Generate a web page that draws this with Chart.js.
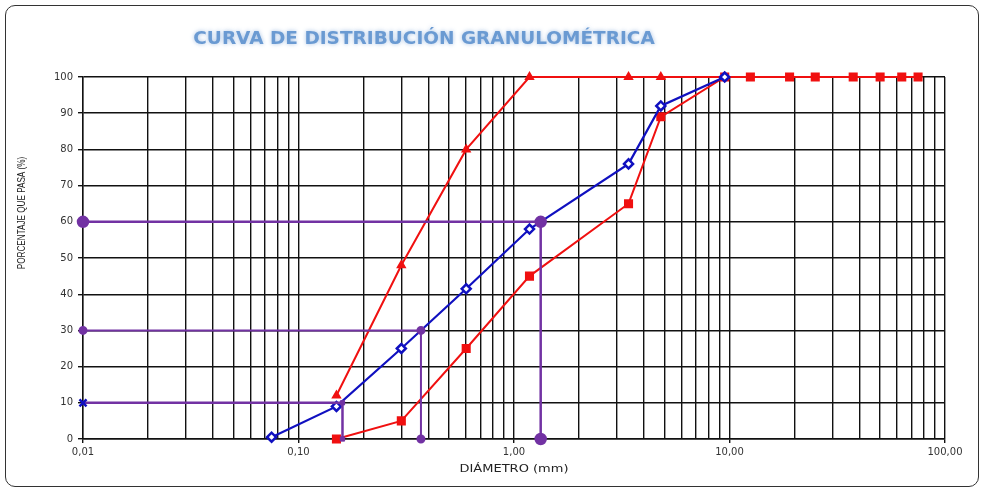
<!DOCTYPE html>
<html>
<head>
<meta charset="utf-8">
<script src="https://cdn.jsdelivr.net/npm/chart.js@4.4.1/dist/chart.umd.min.js"></script>
<style>
  html, body { margin: 0; padding: 0; background: #fff; }
  #marco { position: absolute; left: 5px; top: 5px; width: 972px; height: 480px;
           border: 1.5px solid #333; border-radius: 10px; pointer-events: none; }
  #caja { position: absolute; left: 0; top: 0; width: 984px; height: 490px; }
</style>
</head>
<body>
<div id="caja"><canvas id="granulometria" width="984" height="490"></canvas></div>
<div id="marco"></div>
<script>
// Curva granulometrica: diametro (mm) vs porcentaje que pasa
const titulo = 'CURVA DE DISTRIBUCIÓN GRANULOMÉTRICA';
const tituloY = 'PORCENTAJE QUE PASA (%)';
const tituloX = 'DIÁMETRO (mm)';

// curva azul (muestra)
const diametroAzul = [0.075, 0.15, 0.30, 0.60, 1.18, 3.40, 4.80, 9.50];
const pasaAzul = [0.5, 9, 25, 41.5, 58, 76, 92, 100];

// limite superior (triangulos rojos)
const diametroSuperior = [0.15, 0.30, 0.60, 1.18, 3.40, 4.80, 9.50];
const pasaSuperior = [12, 48, 80, 100, 100, 100, 100];

// limite inferior (cuadrados rojos)
const diametroInferior = [0.15, 0.30, 0.60, 1.18, 3.40, 4.80, 9.50, 12.5, 19, 25, 37.5, 50, 63, 75];
const pasaInferior = [0, 5, 25, 45, 65, 89, 100, 100, 100, 100, 100, 100, 100, 100];

// D10, D30, D60
const porcentajesD = [10, 30, 60];
const diametrosD = [0.16, 0.37, 1.33];

// ejes
const ticksMayores = [0.01, 0.1, 1, 10, 100];
const etiquetasX = ['0,01', '0,10', '1,00', '10,00', '100,00'];
const multiplicadores = [1, 2, 3, 4, 5, 6, 7, 8, 9];

const puntos = (xs, ys) => xs.map((x, i) => ({ x: x, y: ys[i] }));
const lineaD = (i) => [
  { x: ticksMayores[0], y: porcentajesD[i] },
  { x: diametrosD[i], y: porcentajesD[i] },
  { x: diametrosD[i], y: 0 }
];

const morado = '#7232a3';
const rojo = '#f01010';
const azul = '#1010c0';

const rotulos = {
  id: 'rotulos',
  afterDraw(chart) {
    const ctx = chart.ctx;
    const area = chart.chartArea;

    // titulo principal
    ctx.save();
    ctx.font = 'bold 18.5px "DejaVu Sans"';
    ctx.fillStyle = '#6a9ad2';
    ctx.shadowColor = 'rgba(140,175,220,0.8)';
    ctx.shadowBlur = 4;
    ctx.textAlign = 'center';
    ctx.textBaseline = 'middle';
    ctx.fillText(titulo, 424, 39);
    ctx.restore();

    // titulo eje Y (estrecho)
    ctx.save();
    ctx.font = '11px "Liberation Sans", Arial';
    ctx.fillStyle = '#222';
    ctx.textAlign = 'center';
    ctx.textBaseline = 'middle';
    ctx.translate(22, 213);
    ctx.rotate(-Math.PI / 2);
    ctx.scale(0.74, 1);
    ctx.fillText(tituloY, 0, 0);
    ctx.restore();

    // titulo eje X (ancho)
    ctx.save();
    ctx.font = '10px "DejaVu Sans"';
    ctx.fillStyle = '#222';
    ctx.textAlign = 'center';
    ctx.textBaseline = 'middle';
    ctx.translate((area.left + area.right) / 2, 469);
    ctx.scale(1.3, 1);
    ctx.fillText(tituloX, 0, 0);
    ctx.restore();
  }
};

const ctx = document.getElementById('granulometria').getContext('2d');
new Chart(ctx, {
  type: 'scatter',
  data: {
    datasets: [
      {
        label: 'D60',
        data: lineaD(2),
        showLine: true,
        borderColor: morado,
        borderWidth: 2.5,
        pointStyle: 'circle',
        pointRadius: 5,
        backgroundColor: morado,
        pointBorderColor: morado,
        clip: false,
        order: 1
      },
      {
        label: 'D30',
        data: lineaD(1),
        showLine: true,
        borderColor: morado,
        borderWidth: 2,
        pointStyle: 'circle',
        pointRadius: 3.5,
        backgroundColor: morado,
        pointBorderColor: morado,
        clip: false,
        order: 1
      },
      {
        label: 'D10',
        data: lineaD(0),
        showLine: true,
        borderColor: morado,
        borderWidth: 2.5,
        pointStyle: ['crossRot', 'rect', 'rect'],
        pointRadius: [5, 3, 3],
        pointBorderWidth: [2.5, 1, 1],
        backgroundColor: morado,
        pointBorderColor: [azul, morado, morado],
        clip: false,
        order: 1
      },
      {
        label: 'Muestra',
        data: puntos(diametroAzul, pasaAzul),
        showLine: true,
        borderColor: azul,
        borderWidth: 2.2,
        pointStyle: 'rectRot',
        pointRadius: 4.5,
        pointBorderWidth: 2.5,
        backgroundColor: '#ffffff',
        pointBorderColor: azul,
        clip: false,
        order: 2
      },
      {
        label: 'Superior',
        data: puntos(diametroSuperior, pasaSuperior),
        showLine: true,
        borderColor: rojo,
        borderWidth: 2,
        pointStyle: 'triangle',
        pointRadius: 4,
        backgroundColor: rojo,
        pointBorderColor: rojo,
        clip: false,
        order: 3
      },
      {
        label: 'Inferior',
        data: puntos(diametroInferior, pasaInferior),
        showLine: true,
        borderColor: rojo,
        borderWidth: 2,
        pointStyle: 'rect',
        pointRadius: 5,
        backgroundColor: rojo,
        pointBorderColor: rojo,
        clip: false,
        order: 3
      }
    ]
  },
  options: {
    responsive: false,
    animation: false,
    layout: { padding: { left: 0, right: 39, top: 77, bottom: 0 } },
    plugins: {
      legend: { display: false },
      title: { display: false },
      tooltip: { enabled: false }
    },
    scales: {
      x: {
        type: 'logarithmic',
        min: 0.01,
        max: 100,
        afterBuildTicks: (scale) => {
          const ticks = [];
          ticksMayores.slice(0, -1).forEach(base => {
            multiplicadores.forEach(m => ticks.push({ value: +(base * m).toPrecision(3) }));
          });
          ticks.push({ value: ticksMayores[ticksMayores.length - 1] });
          scale.ticks = ticks;
        },
        afterFit: (scale) => { scale.height = 51; },
        ticks: {
          autoSkip: false,
          maxRotation: 0,
          padding: 3,
          color: '#333',
          font: { family: 'DejaVu Sans', size: 10 },
          callback: (value) => {
            const i = ticksMayores.findIndex(t => Math.abs(t - value) < 1e-9);
            return i >= 0 ? etiquetasX[i] : '';
          }
        },
        grid: {
          color: '#111',
          lineWidth: 1.4,
          tickLength: 4,
          tickColor: (c) => ticksMayores.some(t => Math.abs(t - c.tick.value) < 1e-9) ? '#111' : 'rgba(0,0,0,0)'
        },
        border: { color: '#111', width: 1.4 }
      },
      y: {
        min: 0,
        max: 100,
        afterFit: (scale) => { scale.width = 83; },
        ticks: {
          stepSize: 10,
          padding: 5,
          color: '#333',
          font: { family: 'DejaVu Sans', size: 10 }
        },
        grid: { color: '#111', lineWidth: 1.4, tickLength: 5 },
        border: { color: '#111', width: 1.4 }
      }
    }
  },
  plugins: [rotulos]
});
</script>
</body>
</html>
